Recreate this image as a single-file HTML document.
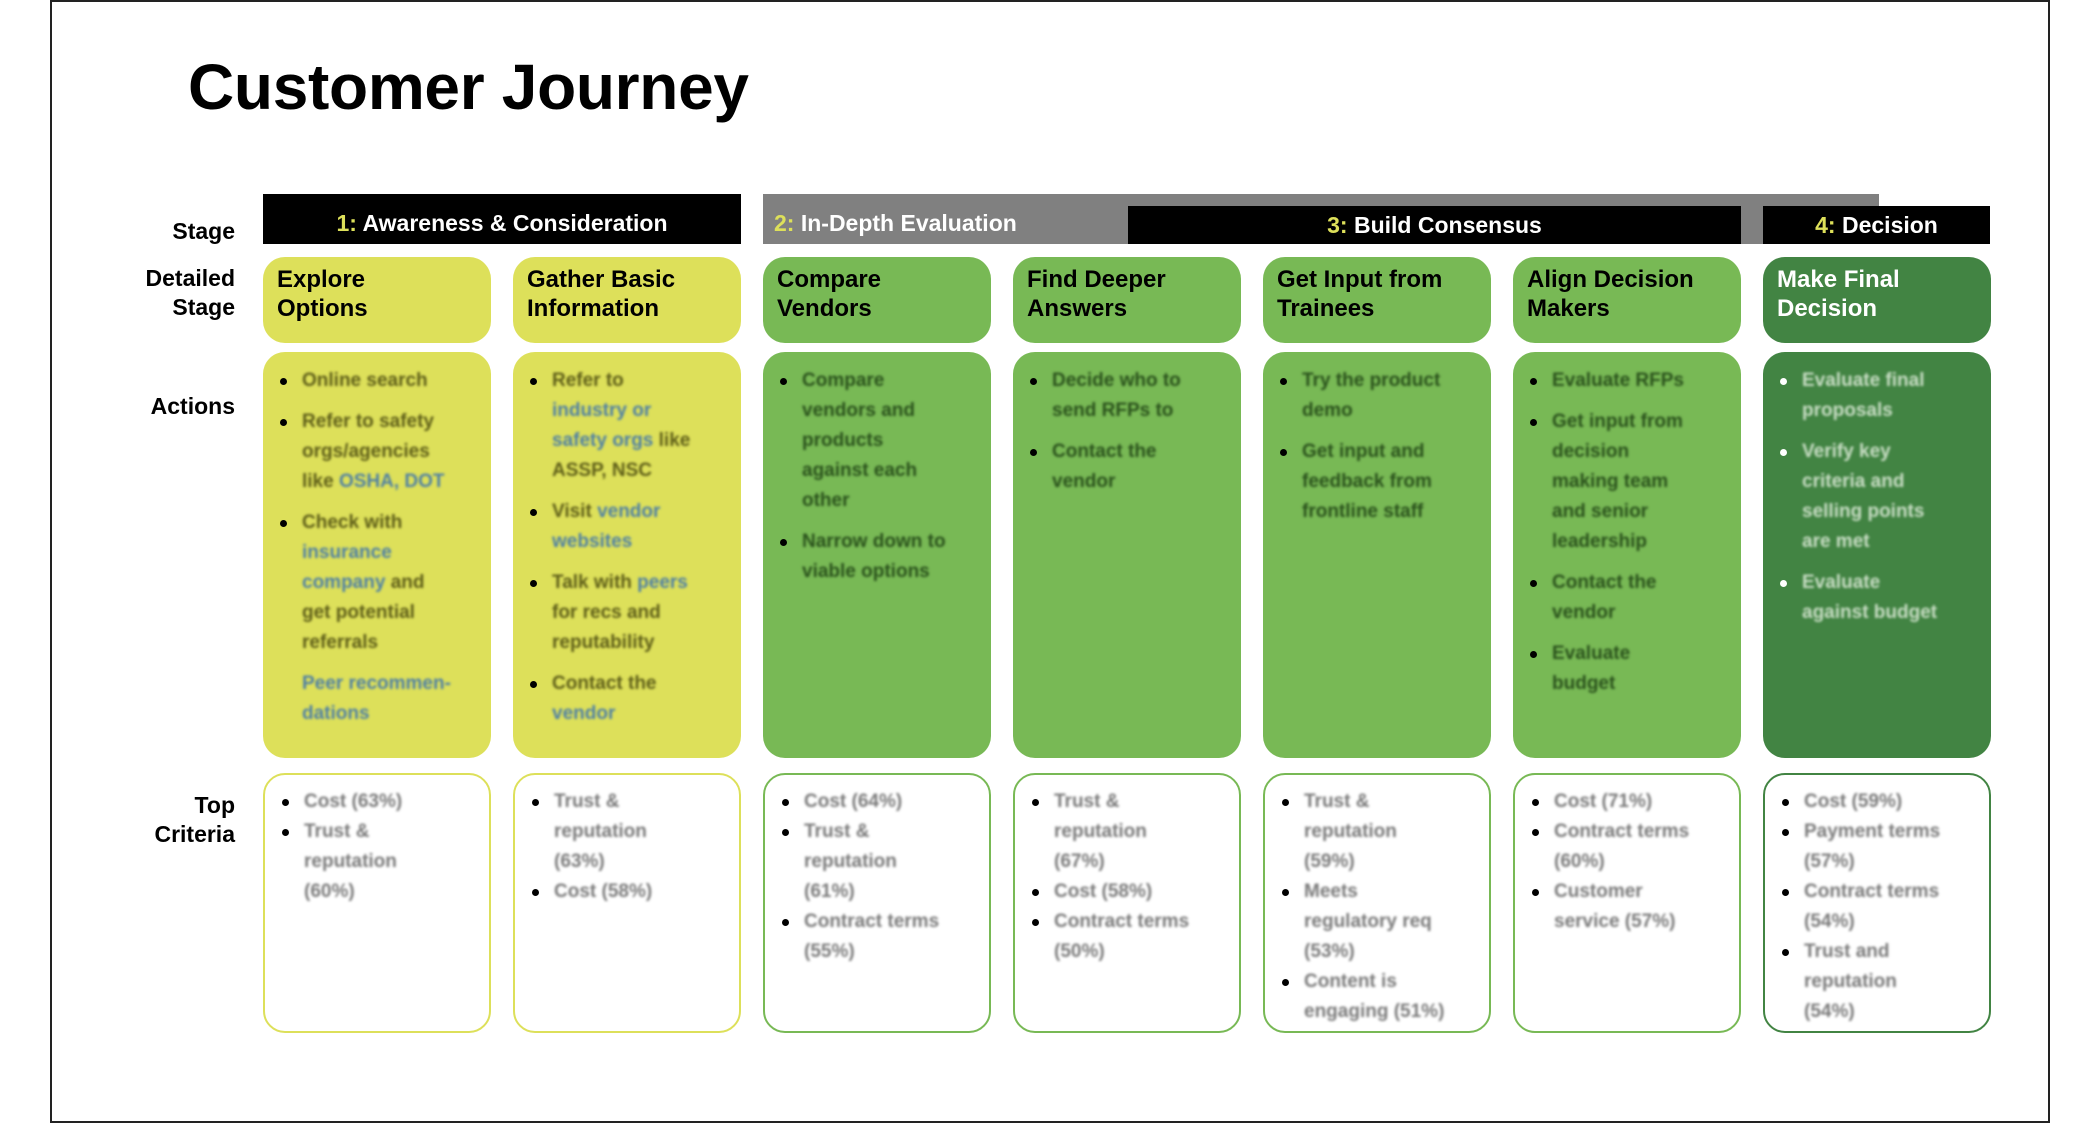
<!DOCTYPE html>
<html><head><meta charset="utf-8">
<style>
*{margin:0;padding:0;box-sizing:border-box}
body{width:2100px;height:1125px;background:#fff;position:relative;overflow:hidden;font-family:"Liberation Sans",sans-serif}
.frame{position:absolute;left:50px;top:0;width:2000px;height:1123px;border:2px solid #222}
.title{position:absolute;left:188px;top:50px;font-size:64px;font-weight:bold;color:#000;letter-spacing:-0.3px}
.bar{position:absolute;color:#fff;font-weight:bold;font-size:23px;line-height:38px}
.bar b{color:#dde05a}
.lbl{position:absolute;right:1865px;text-align:right;font-weight:bold;font-size:23px;line-height:29px;color:#000}
.box{position:absolute;border-radius:22px}
.ds{top:257px;height:86px;padding:8px 14px;font-weight:bold;font-size:24px;line-height:29px}
.ac{top:352px;height:406px;padding:14px 6px 0 17px}
.cr{top:773px;height:260px;padding:12px 6px 0 17px;background:#fff;border:2px solid}
ul{list-style:none}
li{position:relative;padding-left:22px;font-size:19px;line-height:30px}
li:before{content:"";position:absolute;left:0;top:12px;width:7px;height:7px;border-radius:50%;background:#000}
.ac li{margin-bottom:11px}
li.nb:before{display:none}
.t{filter:blur(1.3px);display:inline-block;font-weight:bold;white-space:nowrap}
.y{background:#dde05a}.g{background:#78b955}.d{background:#428443}
.y .t{color:#5e5e18}.g .t{color:#2a521c}.d .t{color:#c9dec5}
.d li:before{background:#fff}
.cr .t{color:#7a7a7a}
.bl{color:#4f80a4!important}
</style></head><body>
<div class="frame"></div>
<div class="title">Customer Journey</div>

<div class="bar" style="left:263px;top:194px;width:478px;height:50px;background:#000;text-align:center;padding-top:10px"><b>1:</b> Awareness &amp; Consideration</div>
<div class="bar" style="left:763px;top:194px;width:1116px;height:50px;background:#808080;padding:10px 0 0 11px"><b>2:</b> In-Depth Evaluation</div>
<div class="bar" style="left:1128px;top:206px;width:613px;height:38px;background:#000;text-align:center"><b>3:</b> Build Consensus</div>
<div class="bar" style="left:1763px;top:206px;width:227px;height:38px;background:#000;text-align:center"><b>4:</b> Decision</div>

<div class="lbl" style="top:217px">Stage</div>
<div class="lbl" style="top:264px">Detailed<br>Stage</div>
<div class="lbl" style="top:392px">Actions</div>
<div class="lbl" style="top:791px">Top<br>Criteria</div>

<div class="box ds y" style="left:263px;width:228px">Explore<br>Options</div>
<div class="box ds y" style="left:513px;width:228px">Gather Basic<br>Information</div>
<div class="box ds g" style="left:763px;width:228px">Compare<br>Vendors</div>
<div class="box ds g" style="left:1013px;width:228px">Find Deeper<br>Answers</div>
<div class="box ds g" style="left:1263px;width:228px">Get Input from<br>Trainees</div>
<div class="box ds g" style="left:1513px;width:228px">Align Decision<br>Makers</div>
<div class="box ds d" style="left:1763px;width:228px;color:#fff">Make Final<br>Decision</div>

<div class="box ac y" style="left:263px;width:228px"><ul>
<li><span class="t">Online search</span></li>
<li><span class="t">Refer to safety<br>orgs/agencies<br>like <span class="bl">OSHA, DOT</span></span></li>
<li><span class="t">Check with<br><span class="bl">insurance</span><br><span class="bl">company</span> and<br>get potential<br>referrals</span></li>
<li class="nb"><span class="t bl">Peer recommen-<br>dations</span></li>
</ul></div>
<div class="box ac y" style="left:513px;width:228px"><ul>
<li><span class="t">Refer to<br><span class="bl">industry or</span><br><span class="bl">safety orgs</span> like<br>ASSP, NSC</span></li>
<li><span class="t">Visit <span class="bl">vendor</span><br><span class="bl">websites</span></span></li>
<li><span class="t">Talk with <span class="bl">peers</span><br>for recs and<br>reputability</span></li>
<li><span class="t">Contact the<br><span class="bl">vendor</span></span></li>
</ul></div>
<div class="box ac g" style="left:763px;width:228px"><ul>
<li><span class="t">Compare<br>vendors and<br>products<br>against each<br>other</span></li>
<li><span class="t">Narrow down to<br>viable options</span></li>
</ul></div>
<div class="box ac g" style="left:1013px;width:228px"><ul>
<li><span class="t">Decide who to<br>send RFPs to</span></li>
<li><span class="t">Contact the<br>vendor</span></li>
</ul></div>
<div class="box ac g" style="left:1263px;width:228px"><ul>
<li><span class="t">Try the product<br>demo</span></li>
<li><span class="t">Get input and<br>feedback from<br>frontline staff</span></li>
</ul></div>
<div class="box ac g" style="left:1513px;width:228px"><ul>
<li><span class="t">Evaluate RFPs</span></li>
<li><span class="t">Get input from<br>decision<br>making team<br>and senior<br>leadership</span></li>
<li><span class="t">Contact the<br>vendor</span></li>
<li><span class="t">Evaluate<br>budget</span></li>
</ul></div>
<div class="box ac d" style="left:1763px;width:228px"><ul>
<li><span class="t">Evaluate final<br>proposals</span></li>
<li><span class="t">Verify key<br>criteria and<br>selling points<br>are met</span></li>
<li><span class="t">Evaluate<br>against budget</span></li>
</ul></div>

<div class="box cr" style="left:263px;width:228px;border-color:#dde05a"><ul>
<li><span class="t">Cost (63%)</span></li>
<li><span class="t">Trust &amp;<br>reputation<br>(60%)</span></li>
</ul></div>
<div class="box cr" style="left:513px;width:228px;border-color:#dde05a"><ul>
<li><span class="t">Trust &amp;<br>reputation<br>(63%)</span></li>
<li><span class="t">Cost (58%)</span></li>
</ul></div>
<div class="box cr" style="left:763px;width:228px;border-color:#78b955"><ul>
<li><span class="t">Cost (64%)</span></li>
<li><span class="t">Trust &amp;<br>reputation<br>(61%)</span></li>
<li><span class="t">Contract terms<br>(55%)</span></li>
</ul></div>
<div class="box cr" style="left:1013px;width:228px;border-color:#78b955"><ul>
<li><span class="t">Trust &amp;<br>reputation<br>(67%)</span></li>
<li><span class="t">Cost (58%)</span></li>
<li><span class="t">Contract terms<br>(50%)</span></li>
</ul></div>
<div class="box cr" style="left:1263px;width:228px;border-color:#78b955"><ul>
<li><span class="t">Trust &amp;<br>reputation<br>(59%)</span></li>
<li><span class="t">Meets<br>regulatory req<br>(53%)</span></li>
<li><span class="t">Content is<br>engaging (51%)</span></li>
</ul></div>
<div class="box cr" style="left:1513px;width:228px;border-color:#78b955"><ul>
<li><span class="t">Cost (71%)</span></li>
<li><span class="t">Contract terms<br>(60%)</span></li>
<li><span class="t">Customer<br>service (57%)</span></li>
</ul></div>
<div class="box cr" style="left:1763px;width:228px;border-color:#428443"><ul>
<li><span class="t">Cost (59%)</span></li>
<li><span class="t">Payment terms<br>(57%)</span></li>
<li><span class="t">Contract terms<br>(54%)</span></li>
<li><span class="t">Trust and<br>reputation<br>(54%)</span></li>
</ul></div>
</body></html>
